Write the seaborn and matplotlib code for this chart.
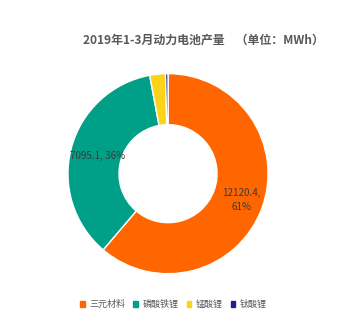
import matplotlib
matplotlib.use("Agg")
import matplotlib.pyplot as plt
import seaborn as sns

sns.set_theme(style="white")
plt.rcParams['font.family'] = ['Noto Sans CJK SC', 'DejaVu Sans']

categories = ["三元材料", "磷酸铁锂", "锰酸锂", "钛酸锂"]
values = [12120.4, 7095.1, 500.0, 80.0]
colors = ["#FF6600", "#00A088", "#FFD21A", "#1F1F8F"]
title = "2019年1-3月动力电池产量    （单位：MWh）"

fig = plt.figure(figsize=(3.45, 3.24), dpi=100)
fig.patch.set_facecolor("white")
ax = fig.add_axes([0.197, 0.155, 0.58, 0.618])

total = sum(values)
wedges, _ = ax.pie(values, colors=colors, startangle=90, counterclock=False,
                   radius=1.0,
                   wedgeprops=dict(width=0.51, edgecolor="white", linewidth=1.0))
ax.set_aspect("equal")
ax.set_xlim(-1.0, 1.0)
ax.set_ylim(-1.0, 1.0)
ax.axis("off")

# data labels for the two large slices
lab_col = "#3A3A3A"
ax.text(0.73, -0.265, f"{values[0]:.1f},\n{values[0] / total:.0%}", ha="center", va="center",
        fontsize=7.1, color=lab_col, linespacing=1.5)
ax.text(-0.70, 0.18, f"{values[1]:.1f}, {values[1] / total:.0%}", ha="center", va="center",
        fontsize=7.1, color=lab_col)

fig.text(0.59, 0.876, title, ha="center", va="center", fontsize=8.6,
         fontweight="bold", color="#595959")

handles = [plt.Rectangle((0, 0), 1, 1, color=c) for c in colors]
fig.legend(handles, categories, loc="center", bbox_to_anchor=(0.503, 0.06), ncol=4,
           frameon=False, fontsize=6.5, handlelength=0.5, handleheight=0.5,
           handletextpad=0.5, columnspacing=0.9, labelcolor="#595959")

fig.savefig("out.png", dpi=100, facecolor="white")
